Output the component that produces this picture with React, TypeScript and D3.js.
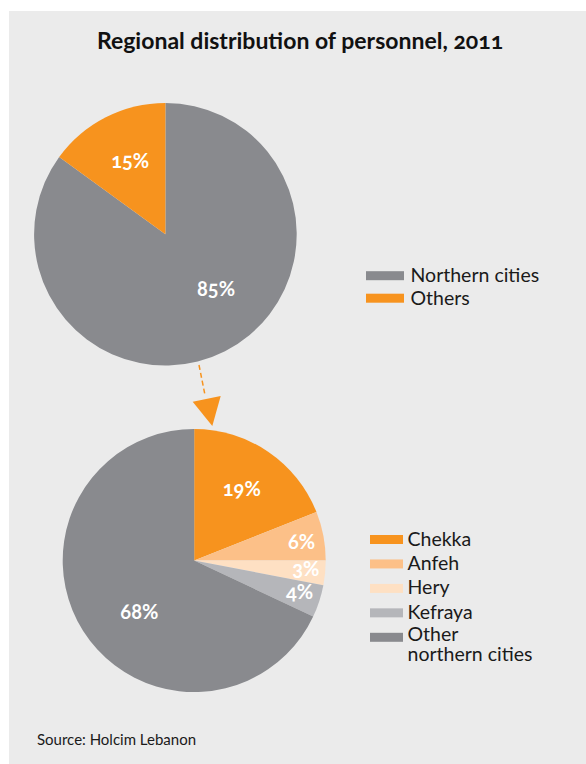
import React from "react";
import * as d3 from "d3";

const title = "Regional distribution of personnel, 2011";
const source = "Source: Holcim Lebanon";

const topCategories = ["Northern cities", "Others"];
const topValues = [85, 15];
const topColors = ["#898a8e", "#f7931e"];

const bottomCategories = ["Chekka", "Anfeh", "Hery", "Kefraya", "Other northern cities"];
const bottomLegendLines = [["Chekka"], ["Anfeh"], ["Hery"], ["Kefraya"], ["Other", "northern cities"]];
const bottomValues = [19, 6, 3, 4, 68];
const bottomColors = ["#f7931e", "#fcc088", "#fee0c3", "#b5b6ba", "#898a8e"];

// label placement (angle in degrees from 12 o'clock, radius in px)
const topLabelPos = [
  [137.5, 75],
  [-25.7, 81],
];
const bottomLabelPos = [
  [33.6, 86],
  [80.1, 109],
  [94.3, 112],
  [106.8, 110],
  [227, 75],
];

const W = 586;
const H = 764;
const FONT = "Lato, 'Open Sans', sans-serif";

function Pie({ cx, cy, r, values, colors, labelPos }) {
  const pie = d3.pie<number>().sort(null).value((d) => d).startAngle(0).endAngle(2 * Math.PI);
  const arcs = pie(values);
  const arc = d3.arc<d3.PieArcDatum<number>>().innerRadius(0).outerRadius(r);
  return (
    <g transform={`translate(${cx},${cy})`}>
      {arcs.map((a, i) => (
        <path key={i} d={arc(a) || ""} fill={colors[i]} />
      ))}
      {arcs.map((a, i) => {
        const ang = (labelPos[i][0] * Math.PI) / 180;
        const rr = labelPos[i][1];
        const x = Math.sin(ang) * rr;
        const y = -Math.cos(ang) * rr;
        return (
          <text
            key={"l" + i}
            x={x}
            y={y + 7}
            textAnchor="middle"
            fill="#fff"
            fontWeight={700}
            fontSize={20}
            style={{ fontVariantNumeric: "oldstyle-nums" }}
          >
            {`${a.data}%`}
          </text>
        );
      })}
    </g>
  );
}

export default function App() {
  return (
    <svg
      width={W}
      height={H}
      style={{ position: "absolute", left: 0, top: 0, fontFamily: FONT }}
    >
      <rect x={9} y={11} width={W - 9} height={H - 11} fill="#ebebeb" />
      <text
        x={300}
        y={49}
        textAnchor="middle"
        fontSize={23}
        fontWeight={700}
        fill="#111"
        style={{ fontVariantNumeric: "oldstyle-nums" }}
      >
        {title}
      </text>

      <Pie cx={165.4} cy={234.2} r={131.3} values={topValues} colors={topColors} labelPos={topLabelPos} />
      <Pie cx={194.2} cy={560.5} r={131.5} values={bottomValues} colors={bottomColors} labelPos={bottomLabelPos} />

      {/* arrow */}
      <line x1={199} y1={365} x2={205} y2={395} stroke="#f7931e" strokeWidth={1.5} strokeDasharray="5,3" />
      <polygon points="192.7,401.7 220.7,396 212.3,426" fill="#f7931e" />

      {/* top legend */}
      {topCategories.map((c, i) => (
        <g key={c} transform={`translate(366,${275.7 + i * 22.5})`}>
          <rect x={0} y={-4.5} width={38} height={9} fill={topColors[i]} />
          <text x={44.5} y={6.5} fontSize={19.5} fill="#1a1a1a">
            {c}
          </text>
        </g>
      ))}

      {/* bottom legend */}
      {bottomCategories.map((c, i) => {
        const lines = bottomLegendLines[i];
        const multi = lines.length > 1;
        return (
          <g key={c} transform={`translate(370,${539.5 + i * 24.45})`}>
            <rect x={0} y={-4.5} width={33} height={9} fill={bottomColors[i]} />
            {lines.map((ln, j) => (
              <text
                key={j}
                x={37.5}
                y={(multi ? 3.3 : 6) + j * 20.5}
                fontSize={19.5}
                fill="#1a1a1a"
              >
                {ln}
              </text>
            ))}
          </g>
        );
      })}

      <text x={37} y={745} fontSize={15} fill="#1a1a1a">
        {source}
      </text>
    </svg>
  );
}
